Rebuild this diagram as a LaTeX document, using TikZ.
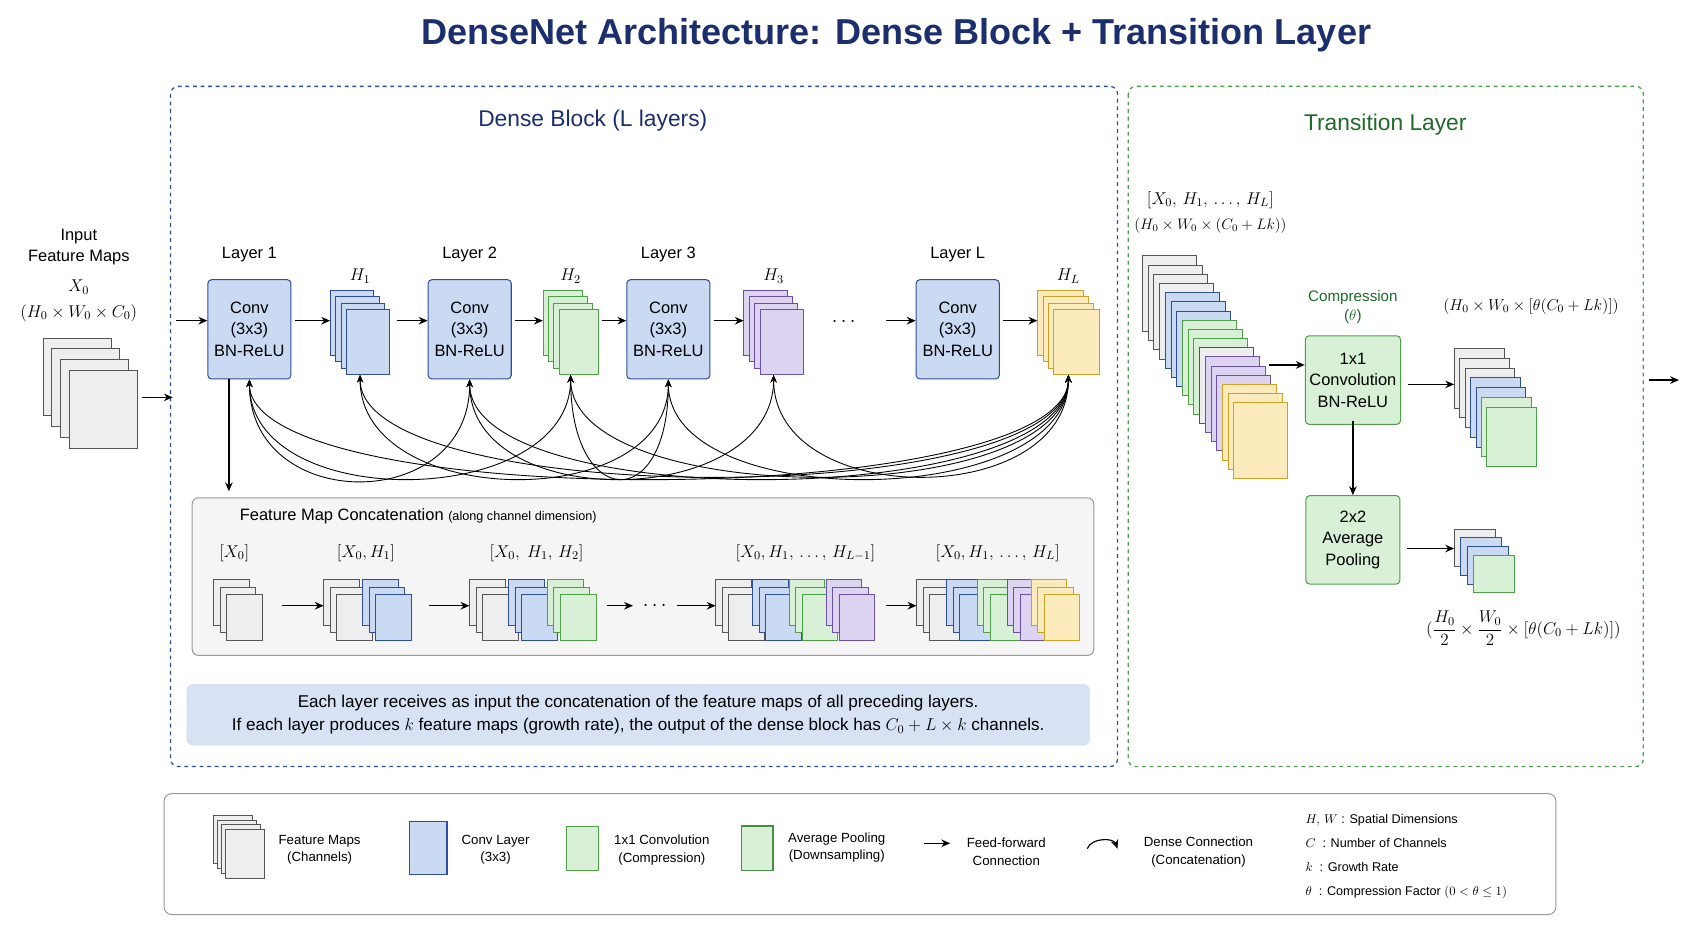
\RequirePackage{fix-cm}
\documentclass[tikz,border=0pt]{standalone}
\usepackage{amsmath}
\usepackage{fontspec}
\setmainfont{Liberation Sans}
\usetikzlibrary{arrows.meta,positioning,fit,calc}

\definecolor{navy}{HTML}{1B2F6E}
\definecolor{dgreen}{HTML}{1E6B2A}
\definecolor{grayF}{HTML}{EEEEEE}\definecolor{grayD}{HTML}{555555}
\definecolor{blueF}{HTML}{CADAF2}\definecolor{blueD}{HTML}{2D4E9A}
\definecolor{greenF}{HTML}{D8F0D5}\definecolor{greenD}{HTML}{4E9E4A}
\definecolor{purpF}{HTML}{DDD4F1}\definecolor{purpD}{HTML}{6B4FA8}
\definecolor{yelF}{HTML}{FBEBBC}\definecolor{yelD}{HTML}{C9A227}

% stack of feature maps: x, y, w, h, dx, dy, n, colours, name
\newcommand{\fmaps}[9]{%
  \foreach \c [count=\i from 0] in {#8}
    \draw[sheet=\c] ({#1+\i*#5},{#2+\i*#6}) rectangle +(#3,#4);
  \node[inner sep=0, fit={(#1,#2) ({#1+(#7-1)*#5+#3},{#2+(#7-1)*#6+#4})}] (#9) {};
}

\tikzset{
  sheet/.style={fill=#1F, draw=#1D, line width=0.7pt},
  conv/.style={rectangle, rounded corners=3pt, fill=blueF, draw=blueD, line width=0.8pt,
    minimum width=77*0.03cm, minimum height=92*0.03cm, align=center, font=\fontsize{13}{17}\selectfont},
  trans/.style={conv, fill=greenF, draw=greenD, minimum width=87*0.03cm, minimum height=82*0.03cm},
  ff/.style={-{Stealth[length=7pt,width=6pt]}, line width=1.1pt},
  dense/.style={{Stealth[length=6pt,width=5pt]}-{Stealth[length=6pt,width=5pt]}, line width=0.7pt},
  lbl/.style={font=\fontsize{13}{17}\selectfont, align=center},
  mth/.style={font=\fontsize{13.5}{16}\selectfont},
  lgd/.style={font=\fontsize{10.5}{14}\selectfont, align=center},
}

\begin{document}
\begin{tikzpicture}[x=0.03cm, y=-0.03cm]
\useasboundingbox[fill=white] (0,0) rectangle (1568,860);

% title and panels
\node[font=\bfseries\fontsize{28.5}{32}\selectfont, text=navy] (title) at (830,33) {DenseNet Architecture: Dense Block + Transition Layer};
\draw[blueD, dashed, line width=1pt, rounded corners=6pt] (158,80) rectangle (1035,710);
\draw[greenD, dashed, line width=1pt, rounded corners=6pt] (1045,80) rectangle (1522,710);
\node[font=\fontsize{18}{22}\selectfont, text=navy] (dbl) at (549,112) {Dense Block (L layers)};
\node[font=\fontsize{18}{22}\selectfont, text=dgreen] (tll) at (1283,115) {Transition Layer};

% input
\node[lbl] (inp) at (73,229) {Input\\Feature Maps};
\node[mth] (inx) at (73,266) {$X_0$};
\node[mth] (ins) at (73,290) {$(H_0\times W_0\times C_0)$};
\fmaps{40}{313}{63}{72}{8}{10}{4}{gray,gray,gray,gray}{x0}
\coordinate (blk) at (160,368);
\draw[ff] (x0.east |- blk) ++(4,0) coordinate (x0e) (x0e) -- (blk);

% layers and outputs
\node[conv] (l1) at (231,305) {Conv\\(3x3)\\BN-ReLU};
\node[conv] (l2) at (435,305) {Conv\\(3x3)\\BN-ReLU};
\node[conv] (l3) at (619,305) {Conv\\(3x3)\\BN-ReLU};
\node[conv] (lL) at (887,305) {Conv\\(3x3)\\BN-ReLU};
\foreach \n in {1,2,3,L}
  \node[lbl, above=10pt of l\n] {Layer \n};
\fmaps{306}{269}{40}{60}{5}{6}{4}{blue,blue,blue,blue}{h1}
\fmaps{503}{269}{36}{60}{5}{6}{4}{green,green,green,green}{h2}
\fmaps{689}{269}{40}{60}{5}{6}{4}{purp,purp,purp,purp}{h3}
\fmaps{961}{269}{42}{60}{5}{6}{4}{yel,yel,yel,yel}{hL}
\foreach \h/\t in {h1/1,h2/2,h3/3,hL/L}
  \node[mth, above=2pt of \h] {$H_{\t}$};
\node[font=\bfseries\fontsize{16}{16}\selectfont] (dots) at (783,298) {$\cdots$};
\coordinate (in1) at (163,297);
\draw[ff] (in1) -- (l1.west |- in1);
\draw[ff] (l1.east |- in1) ++(3,0) -- (h1.west |- in1);
\draw[ff] (h1.east |- in1) ++(6,0) -- (l2.west |- in1);
\draw[ff] (l2.east |- in1) ++(3,0) -- (h2.west |- in1);
\draw[ff] (h2.east |- in1) ++(3,0) -- (l3.west |- in1);
\draw[ff] (l3.east |- in1) ++(3,0) -- (h3.west |- in1);
\draw[ff] (lL.west |- in1) ++(-27,0) -- (lL.west |- in1);
\draw[ff] (lL.east |- in1) ++(3,0) -- (hL.west |- in1);

% dense connections
\foreach \a/\b in {l1/l2, l1/h2, l1/hL, h1/l3, h1/hL, l2/h3, l2/hL, h2/hL, l3/hL, h3/hL, h2/l3}
  \draw[dense] (\a.south) .. controls +(0,125) and +(0,125) .. (\b.south);

% concatenation panel
\draw[fill=grayF!60, draw=grayD!60, rounded corners=5pt, line width=0.8pt] (178,461) rectangle (1013,607);
\node[anchor=west, font=\fontsize{13}{16}\selectfont] (cct) at (218,478) {Feature Map Concatenation {\fontsize{10}{12}\selectfont (along channel dimension)}};
\draw[ff] (l1.south) ++(-19,0) coordinate (l1d) (l1d) -- (l1d |- 0,455);
\fmaps{198}{537}{33}{42}{6}{7}{3}{gray,gray,gray}{c0}
\fmaps{300}{537}{33}{42}{6}{7}{3}{gray,gray,gray}{c1a}
\fmaps{336}{537}{33}{42}{6}{7}{3}{blue,blue,blue}{c1b}
\fmaps{435}{537}{33}{42}{6}{7}{3}{gray,gray,gray}{c2a}
\fmaps{471}{537}{33}{42}{6}{7}{3}{blue,blue,blue}{c2b}
\fmaps{507}{537}{33}{42}{6}{7}{3}{green,green,green}{c2c}
\fmaps{663}{537}{33}{42}{6}{7}{3}{gray,gray,gray}{c3a}
\fmaps{697}{537}{33}{42}{6}{7}{3}{blue,blue,blue}{c3b}
\fmaps{731}{537}{33}{42}{6}{7}{3}{green,green,green}{c3c}
\fmaps{765}{537}{33}{42}{6}{7}{3}{purp,purp,purp}{c3d}
\fmaps{849}{537}{33}{42}{6}{7}{3}{gray,gray,gray}{c4a}
\fmaps{877}{537}{33}{42}{6}{7}{3}{blue,blue,blue}{c4b}
\fmaps{905}{537}{33}{42}{6}{7}{3}{green,green,green}{c4c}
\fmaps{933}{537}{33}{42}{6}{7}{3}{purp,purp,purp}{c4d}
\fmaps{955}{537}{33}{42}{6}{7}{3}{yel,yel,yel}{c4e}
\node[mth] at (217,512) {$[X_0]$};
\node[mth] at (339,512) {$[X_0, H_1]$};
\node[mth] at (497,512) {$[X_0,\;H_1,\,H_2]$};
\node[mth] at (746,512) {$[X_0, H_1,\,\ldots,\,H_{L-1}]$};
\node[mth] at (924,512) {$[X_0, H_1,\,\ldots,\,H_L]$};
\coordinate (cy) at (0,561);
\draw[ff] (c0.east |- cy) ++(18,0) -- (c1a.west |- cy);
\draw[ff] (c1b.east |- cy) ++(16,0) -- (c2a.west |- cy);
\draw[ff] (c2c.east |- cy) ++(10,0) coordinate (ca) (ca) -- ++(24,0);
\node[font=\bfseries\fontsize{16}{16}\selectfont] (cdots) at (608,561) {$\cdots$};
\draw[ff] (c3a.west |- cy) ++(-36,0) -- (c3a.west |- cy);
\draw[ff] (c3d.east |- cy) ++(10,0) -- (c4a.west |- cy);

% note
\draw[fill=blueF!75, draw=blueF, rounded corners=5pt] (173,634) rectangle (1009,690);
\node[font=\fontsize{13.5}{18}\selectfont, align=center] (note) at (591,662)
  {Each layer receives as input the concatenation of the feature maps of all preceding layers.\\
   If each layer produces $k$ feature maps (growth rate), the output of the dense block has $C_0+L\times k$ channels.};

% transition layer
\node[mth] (tin) at (1121,185) {$[X_0,\,H_1,\,\ldots,\,H_L]$};
\node[font=\fontsize{12}{14}\selectfont] (tdim) at (1121,209) {$(H_0\times W_0\times(C_0+Lk))$};
\fmaps{1058}{237}{50}{70}{5.3}{8.5}{17}{gray,gray,gray,gray,blue,blue,blue,green,green,green,gray,purp,purp,purp,yel,yel,yel}{big}
\node[trans] (cmp) at (1253,352) {1x1\\Convolution\\BN-ReLU};
\node[trans] (pool) at (1253,500) {2x2\\Average\\Pooling};
\node[font=\fontsize{12}{15}\selectfont, text=dgreen, align=center, above=6pt of cmp] (cmpl) {Compression\\($\theta$)};
\draw[ff] (cmp.west) ++(-33,-14) coordinate (bg) (bg) -- (cmp.west |- bg);
\draw[ff] (cmp.south) ++(0,-4) -- (pool.north);
\fmaps{1347}{323}{46}{55}{5}{9}{7}{gray,gray,gray,blue,blue,green,green}{o1}
\fmaps{1347}{490}{38}{35}{6}{8}{4}{gray,blue,blue,green}{o2}
\draw[ff] (cmp.east) ++(6,4) coordinate (ce) (ce) -- (o1.west |- ce);
\draw[ff] (pool.east) ++(6,8) coordinate (pe) (pe) -- (o2.west |- pe);
\node[mth, font=\fontsize{12.5}{15}\selectfont] (o1l) at (1418,284) {$(H_0\times W_0\times[\theta(C_0+Lk)])$};
\node[mth] (o2l) at (1411,582) {$(\dfrac{H_0}{2}\times\dfrac{W_0}{2}\times[\theta(C_0+Lk)])$};
\coordinate (outa) at (1527,352);
\draw[ff] (outa) -- ++(28,0);

% legend
\draw[draw=grayD!60, rounded corners=6pt, line width=0.8pt] (152,735) rectangle (1441,847);
\fmaps{198}{755}{36}{45}{3.5}{4.5}{4}{gray,gray,gray,gray}{lg1}
\node[lgd] at (296,787) {Feature Maps\\(Channels)};
\draw[sheet=blue, line width=1pt] (379,761) rectangle (414,810);
\node[lgd] at (459,787) {Conv Layer\\(3x3)};
\draw[sheet=green] (525,765) rectangle (554,806);
\node[lgd] at (613,787) {1x1 Convolution\\(Compression)};
\draw[sheet=green, draw=greenD!90!black, line width=1pt] (687,765) rectangle (716,806);
\node[lgd] at (775,785) {Average Pooling\\(Downsampling)};
\coordinate (lga) at (856,781);
\draw[ff] (lga) -- ++(24,0);
\node[lgd] at (932,789) {Feed-forward\\Connection};
\coordinate (lgb) at (1007,786);
\draw[ff, line width=0.9pt] (lgb) to[bend left=70] ++(28,0);
\node[lgd] at (1110,789) {Dense Connection\\(Concatenation)};
\node[lgd, anchor=west, align=left, font=\fontsize{10}{19}\selectfont] (sym) at (1205,793)
  {$H,\,W$ : Spatial Dimensions\\ $C$ \ : Number of Channels\\ $k$ \ : Growth Rate\\ $\theta$ \ : Compression Factor $(0<\theta\le 1)$};
\end{tikzpicture}
\end{document}
